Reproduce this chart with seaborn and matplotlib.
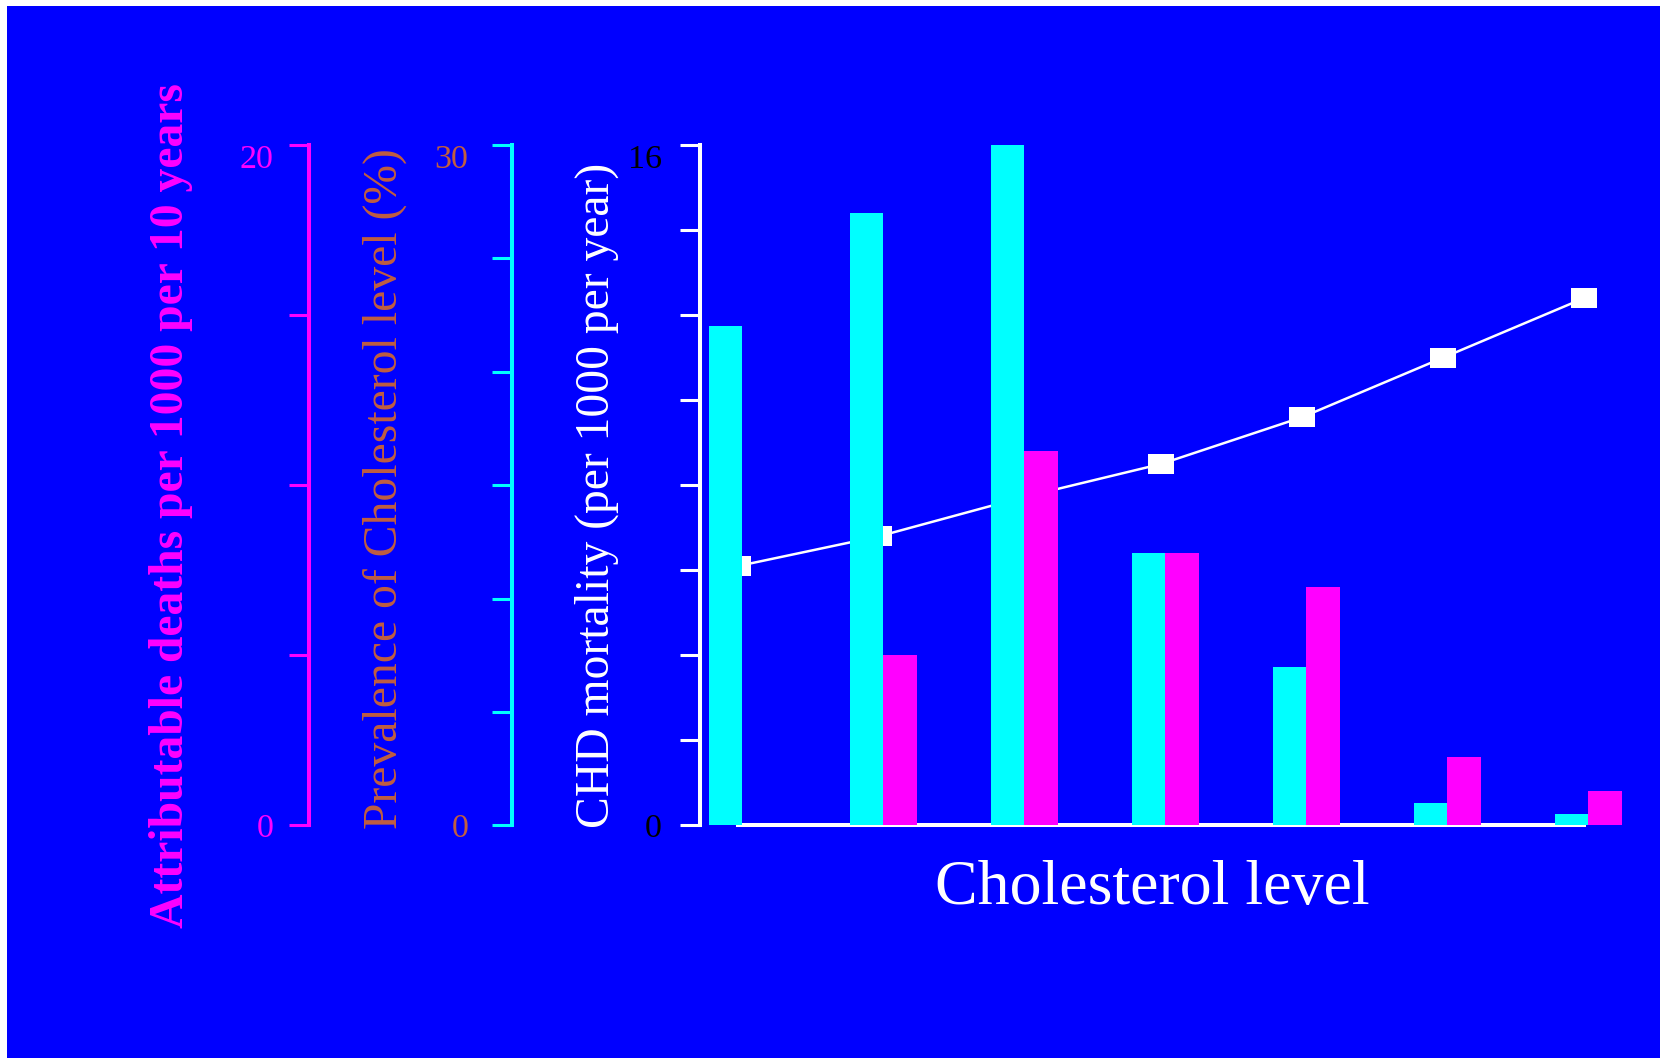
import numpy as np
import pandas as pd
import seaborn as sns
import matplotlib.pyplot as plt
from matplotlib.patches import Rectangle

# --- data ---
groups = [1, 2, 3, 4, 5, 6, 7]
prevalence = [22, 27, 30, 12, 7, 1, 0.5]          # % (cyan bars)
attributable = [0, 5, 11, 8, 7, 2, 1]              # per 1000 per 10 years (magenta bars)
mortality = [6.1, 6.8, 7.7, 8.5, 9.6, 11.0, 12.4]  # per 1000 per year (white line)

BLUE = "#0000FF"
CYAN = "#00FFFF"
MAGENTA = "#FF00FF"
BROWN = "#C05E40"

sns.set_style("ticks")
plt.rcParams["font.family"] = ["Liberation Serif", "DejaVu Serif"]

fig = plt.figure(figsize=(16.6, 10.58), dpi=100, facecolor="white")
fig.patches.append(Rectangle((7 / 1660, 0), 1, 1 - 6 / 1058, transform=fig.transFigure,
                             facecolor=BLUE, edgecolor="none", zorder=-10))

ax = fig.add_axes([0.42169, 0.2198, 0.5607, 0.6432])
ax.set_facecolor("none")

pos = np.arange(len(groups))
w = 0.2376
df = pd.DataFrame({"pos": pos, "prev": prevalence, "attr": attributable, "mort": mortality})
df["x_line"] = df["pos"] - 0.03
df["x_cyan"] = df["pos"] - w / 2
df["x_mag"] = df["pos"] + w / 2

# line first, so the bars cover it
rect = [(-1.37, -1), (1.37, -1), (1.37, 1), (-1.37, 1), (-1.37, -1)]
sns.lineplot(data=df, x="x_line", y="mort", ax=ax, color="white", lw=1.8,
             marker=rect, markersize=19, markeredgewidth=0, markerfacecolor="white")
ax.set_ylim(0, 16)

ax_prev = ax.twinx()
ax_attr = ax.twinx()

sns.barplot(data=df, x="x_cyan", y="prev", ax=ax_prev, native_scale=True, width=w,
            color=CYAN, saturation=1, linewidth=0)
sns.barplot(data=df, x="x_mag", y="attr", ax=ax_attr, native_scale=True, width=w,
            color=MAGENTA, saturation=1, linewidth=0)
ax_prev.set_ylim(0, 30)
ax_attr.set_ylim(0, 20)

for a in (ax, ax_prev, ax_attr):
    a.set_xlim(-0.301, 6.3)
    a.set_xlabel("")
    a.set_ylabel("")
    a.set_xticks([])
    for s in ("top", "right", "bottom"):
        a.spines[s].set_visible(False)
    a.spines["left"].set_visible(True)
    a.yaxis.set_ticks_position("left")

# baseline only between first and last line point
ax.spines["bottom"].set_visible(True)
ax.spines["bottom"].set_color("white")
ax.spines["bottom"].set_linewidth(2.9)
ax.spines["bottom"].set_bounds(df["x_line"].iloc[0], df["x_line"].iloc[-1])

ax_prev.spines["left"].set_position(("axes", -0.2020))
ax_attr.spines["left"].set_position(("axes", -0.4201))

axis_specs = [
    (ax, np.arange(0, 17, 2), "white", "black", 13),
    (ax_prev, np.arange(0, 31, 5), CYAN, BROWN, 17),
    (ax_attr, np.arange(0, 21, 5), MAGENTA, MAGENTA, 11),
]
for a, ticks, spine_col, lab_col, pad in axis_specs:
    a.spines["left"].set_color(spine_col)
    a.spines["left"].set_linewidth(2.9)
    a.set_yticks(ticks)
    a.set_yticklabels([str(ticks[0])] + [""] * (len(ticks) - 2) + [str(ticks[-1])])
    a.tick_params(axis="y", direction="out", length=14.4, width=2.2, color=spine_col,
                  labelcolor=lab_col, labelsize=24.5, pad=pad)
    a.get_yticklabels()[-1].set_va("top")

fig.text(0.3596, 0.532, "CHD mortality (per 1000 per year)", rotation=90,
         ha="center", va="center", color="white", fontsize=34.3)
fig.text(0.2318, 0.5383, "Prevalence of Cholesterol level (%)", rotation=90,
         ha="center", va="center", color=BROWN, fontsize=34.3)
fig.text(0.103, 0.5222, "Attributable deaths per 1000 per 10 years", rotation=90,
         ha="center", va="center", color=MAGENTA, fontsize=34.3, fontweight="bold")
fig.text(0.694, 0.1597, "Cholesterol level", ha="center", va="center",
         color="white", fontsize=46)

fig.savefig("out.png", dpi=100, facecolor=fig.get_facecolor())
